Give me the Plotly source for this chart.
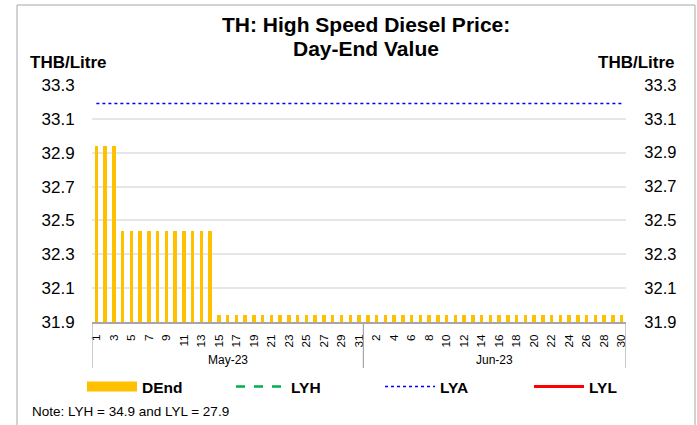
import plotly.graph_objects as go

may_days = list(range(1, 32))
jun_days = list(range(1, 31))
months = ["May-23", "Jun-23"]
dend_may = [32.94]*3 + [32.44]*11 + [31.94]*17
dend_jun = [31.94]*30
lya_value = 33.19
lyh_value = 34.9
lyl_value = 27.9
y_ticks = [31.9, 32.1, 32.3, 32.5, 32.7, 32.9, 33.1, 33.3]

dend = dend_may + dend_jun
n = len(dend)
xs = list(range(1, n + 1))
tickvals, ticktext = [], []
for i, d in enumerate(may_days):
    if d % 2 == 1:
        tickvals.append(i + 1); ticktext.append(str(d))
for i, d in enumerate(jun_days):
    if d % 2 == 0:
        tickvals.append(len(may_days) + i + 1); ticktext.append(str(d))

W, H = 697, 425
PL, PR, PT, PB = 92, 626, 85, 322
font = "Liberation Sans, Arial, sans-serif"

def px(x):
    return x / W

def py(y):
    return 1 - y / H

fig = go.Figure()
fig.add_trace(go.Bar(x=xs, y=[v - y_ticks[0] for v in dend], base=y_ticks[0], name="DEnd",
                     marker=dict(color="#FFC000", line=dict(width=0)), width=0.4,
                     showlegend=False, legendgroup="d"))
fig.add_trace(go.Scatter(x=[None], y=[None], mode="lines", name="DEnd", legendgroup="d",
                         line=dict(color="#FFC000", width=10)))
fig.add_trace(go.Scatter(x=[xs[0], xs[-1]], y=[lyh_value]*2, mode="lines", name="LYH",
                         line=dict(color="#00B050", dash="dash", width=2.5)))
fig.add_trace(go.Scatter(x=[xs[0], xs[-1]], y=[lya_value]*2, mode="lines", name="LYA",
                         line=dict(color="#0000FF", dash="dot", width=1.5)))
fig.add_trace(go.Scatter(x=[xs[0], xs[-1]], y=[lyl_value]*2, mode="lines", name="LYL",
                         line=dict(color="#FF0000", width=3)))
fig.add_trace(go.Scatter(x=[xs[0]], y=[None], yaxis="y2", showlegend=False, hoverinfo="skip"))

yfmt = dict(range=[y_ticks[0], y_ticks[-1]], tickvals=y_ticks, ticktext=[f"{v:.1f}" for v in y_ticks],
            ticks="outside", tickcolor="rgba(0,0,0,0)", fixedrange=True, zeroline=False,
            automargin=False, domain=[py(PB), py(PT)])
fig.update_layout(
    width=W, height=H, margin=dict(l=0, r=0, t=0, b=0, autoexpand=False),
    paper_bgcolor="white", plot_bgcolor="white",
    showlegend=True, bargap=0,
    xaxis=dict(range=[0.5, n + 0.5], tickvals=tickvals, ticktext=ticktext, tickangle=-90,
               domain=[px(PL), px(PR)], automargin=False, ticklabelstandoff=6,
               tickfont=dict(family=font, size=11.7, color="#000"), showgrid=False,
               showline=True, linecolor="#A6A6A6", linewidth=1.5, ticks="", zeroline=False),
    yaxis=dict(**yfmt, tickfont=dict(family=font, size=17, color="#000"), ticklen=13,
               showgrid=True, gridcolor="#E6E6E6", gridwidth=1.5, showline=False),
    yaxis2=dict(**yfmt, tickfont=dict(family=font, size=16.5, color="#000"), ticklen=14,
                overlaying="y", side="right", showgrid=False, showline=False),
    legend=dict(orientation="h", x=px(82), xanchor="left", y=py(370), yanchor="top",
                font=dict(family=font, size=15.5, color="#000", weight="bold"),
                entrywidth=84, entrywidthmode="pixels", itemwidth=50,
                bgcolor="rgba(0,0,0,0)"),
)

fig.add_annotation(text="<b>TH: High Speed Diesel Price:</b>", xref="paper",
                   yref="paper", x=px(366), y=py(24), xanchor="center", yanchor="middle",
                   showarrow=False, font=dict(family=font, size=21, color="#000"))
fig.add_annotation(text="<b>Day-End Value</b>", xref="paper",
                   yref="paper", x=px(366), y=py(48.5), xanchor="center", yanchor="middle",
                   showarrow=False, font=dict(family=font, size=21, color="#000"))

# month group separators and labels
bounds = [0.5, len(may_days) + 0.5, n + 0.5]
for b in bounds:
    fig.add_shape(type="line", xref="x", yref="paper", x0=b, x1=b, y0=py(PB), y1=py(368),
                  line=dict(color="#A6A6A6", width=1.2))
for m, (a, b) in zip(months, zip(bounds[:-1], bounds[1:])):
    fig.add_annotation(text=m, xref="x", yref="paper", x=(a + b) / 2, y=py(360), showarrow=False,
                       xanchor="center", yanchor="middle",
                       font=dict(family=font, size=12, color="#000"))

fig.add_annotation(text="<b>THB/Litre</b>", xref="paper", yref="paper", x=px(28), y=py(62),
                   xanchor="left", yanchor="middle", showarrow=False,
                   font=dict(family=font, size=17, color="#000"))
fig.add_annotation(text="<b>THB/Litre</b>", xref="paper", yref="paper", x=px(677), y=py(62),
                   xanchor="right", yanchor="middle", showarrow=False,
                   font=dict(family=font, size=17, color="#000"))
fig.add_annotation(text="Note: LYH = 34.9 and LYL = 27.9", xref="paper", yref="paper",
                   x=px(30), y=py(411), xanchor="left", yanchor="middle", showarrow=False,
                   font=dict(family=font, size=13.5, color="#000"))
# outer border
fig.add_shape(type="rect", xref="paper", yref="paper", x0=px(17), x1=px(695),
              y0=-0.2, y1=py(5), line=dict(color="#A6A6A6", width=1))

fig.write_html("out.html", config={"displayModeBar": False},
               post_script="document.body.style.margin='0';")
